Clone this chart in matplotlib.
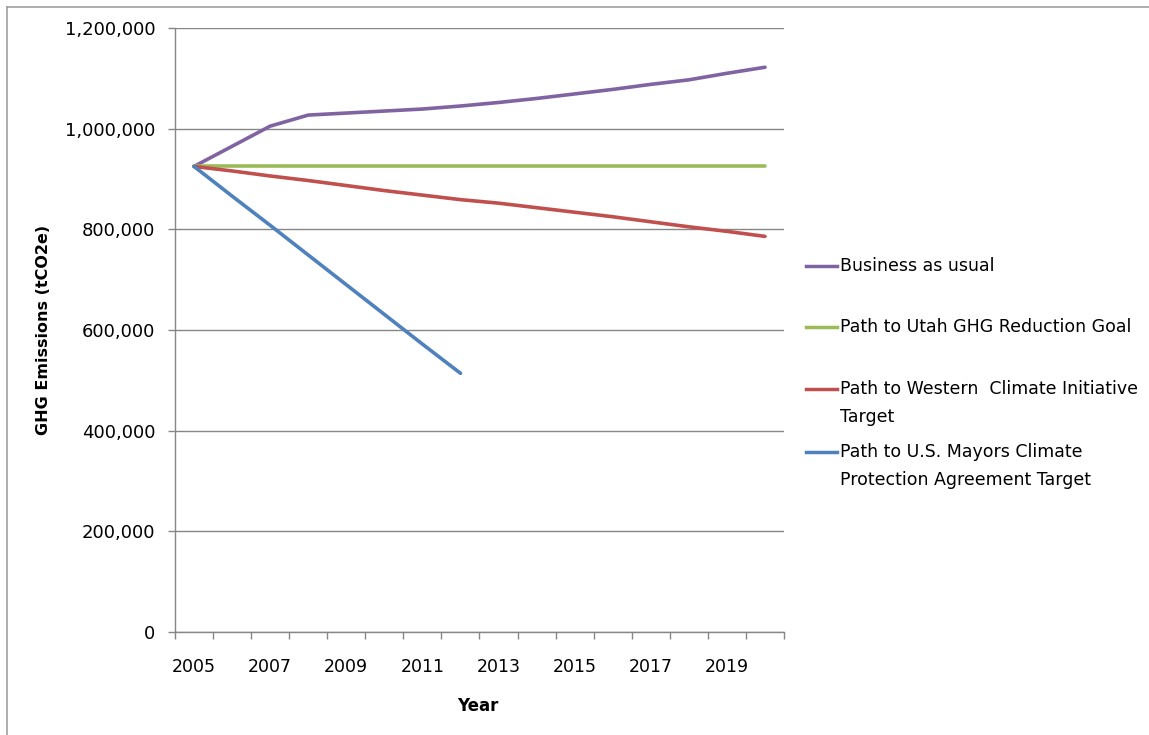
import numpy as np
import matplotlib
matplotlib.use("Agg")
import matplotlib.pyplot as plt
from matplotlib.lines import Line2D
from matplotlib.ticker import FuncFormatter, FixedLocator

years = list(range(2005, 2021))
tick_years = [2005, 2007, 2009, 2011, 2013, 2015, 2017, 2019]

series_names = [
    "Business as usual",
    "Path to Utah GHG Reduction Goal",
    "Path to Western  Climate Initiative\nTarget",
    "Path to U.S. Mayors Climate\nProtection Agreement Target",
]
colors = ["#8064A2", "#9BBB59", "#C0504D", "#4F81BD"]

bau = [925000, 965000, 1005000, 1027000, 1031000, 1035000, 1039000, 1045000,
       1052000, 1060000, 1069000, 1078000, 1088000, 1097000, 1110000, 1122000]
utah = [925000] * 16
wci = [925000, 916000, 906000, 897000, 887000, 877000, 868000, 859000,
       852000, 843000, 834000, 825000, 815000, 805000, 796000, 786000]
mayors = [925000, 866000, 808000, 749000, 690000, 631000, 572000, 514000]

W, H = 1149, 735
fig = plt.figure(figsize=(W / 100, H / 100), dpi=100)
fig.patch.set_facecolor("white")

def px(x, y):
    return x / W, 1 - y / H

l, r, t, b = 175, 784, 28, 632
ax = fig.add_axes([l / W, 1 - b / H, (r - l) / W, (b - t) / H])

x_all = np.arange(len(years))
all_series = [bau, utah, wci, mayors]
for vals, c in zip(all_series, colors):
    ax.plot(x_all[:len(vals)], vals, color=c, lw=2.6, solid_capstyle="round",
            solid_joinstyle="round", zorder=3)

ax.set_xlim(-0.5, len(years) - 0.5)
ax.set_ylim(0, 1200000)
ax.set_yticks(np.arange(0, 1200001, 200000))
ax.yaxis.set_major_formatter(FuncFormatter(lambda v, p: f"{int(v):,}"))

tick_pos = [years.index(y) for y in tick_years]
ax.set_xticks(tick_pos)
ax.set_xticklabels([str(y) for y in tick_years])
ax.xaxis.set_minor_locator(FixedLocator(np.arange(-0.5, len(years), 1.0)))
ax.tick_params(axis="x", which="major", length=0, pad=19, labelsize=12.5)
ax.tick_params(axis="x", which="minor", length=5, color="#868686", width=1)
ax.tick_params(axis="y", which="major", length=5, color="#868686", width=1,
               pad=9, labelsize=13)

ax.grid(axis="y", color="#868686", lw=1)
ax.set_axisbelow(True)
for s in ["top", "right"]:
    ax.spines[s].set_visible(False)
for s in ["left", "bottom"]:
    ax.spines[s].set_color("#868686")
    ax.spines[s].set_linewidth(1)

ax.set_ylabel("GHG Emissions (tCO2e)", fontsize=11.5, fontweight="bold")
ax.yaxis.set_label_coords((51 - l) / (r - l), 0.5)
ax.set_xlabel("Year", fontsize=12, fontweight="bold")
ax.xaxis.set_label_coords((478 - l) / (r - l), (b - 697) / (b - t))

# Legend (Excel style: handle aligned with first line)
entry_y = [266, 327, 389, 452]
for name, c, y0 in zip(series_names, colors, entry_y):
    x0, y0f = px(806, y0)
    x1, _ = px(837, y0)
    fig.add_artist(Line2D([x0, x1], [y0f, y0f], color=c, lw=2.5,
                          transform=fig.transFigure))
    for i, line in enumerate(name.split("\n")):
        tx, ty = px(840, y0 + i * 28)
        fig.text(tx, ty, line, fontsize=12.5, va="center", ha="left")

# Chart border (top and left edges visible)
fig.add_artist(Line2D([7 / W, 1], [1 - 7 / H, 1 - 7 / H], color="#A0A0A0",
                      lw=1.2, transform=fig.transFigure))
fig.add_artist(Line2D([7 / W, 7 / W], [0, 1 - 7 / H], color="#A0A0A0",
                      lw=1.2, transform=fig.transFigure))

fig.savefig("out.png", dpi=100)
